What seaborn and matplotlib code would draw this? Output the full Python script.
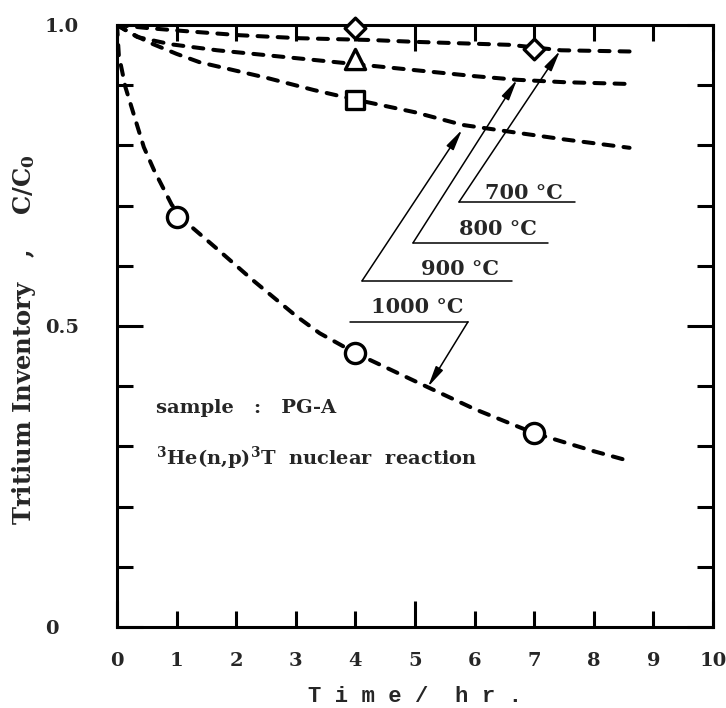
import numpy as np
import pandas as pd
import matplotlib
matplotlib.use("Agg")
import matplotlib.pyplot as plt
import seaborn as sns

# ---------------- data ----------------
# fitted (dashed) curves
t_1000 = [0, 0.03, 0.14, 0.31, 0.45, 0.62, 0.92, 1.21, 1.68, 2.28, 3.0, 3.4, 4.0, 5.2, 6.0, 7.0, 8.0, 8.55]
c_1000 = [1.0, 0.95, 0.897, 0.842, 0.797, 0.759, 0.701, 0.668, 0.628, 0.576, 0.517, 0.488, 0.455, 0.399, 0.362, 0.322, 0.292, 0.277]

t_900 = [0, 0.2, 0.56, 1.0, 1.39, 2.52, 3.3, 4.0, 5.0, 5.8, 6.64, 7.5, 8.6]
c_900 = [1.0, 0.988, 0.970, 0.952, 0.938, 0.912, 0.892, 0.876, 0.855, 0.834, 0.822, 0.810, 0.796]

t_800 = [0, 0.34, 0.9, 1.68, 3.3, 4.0, 5.0, 6.0, 6.71, 7.5, 8.6]
c_800 = [1.0, 0.980, 0.968, 0.958, 0.942, 0.935, 0.925, 0.915, 0.909, 0.905, 0.902]

t_700 = [0, 0.5, 1.12, 2.06, 3.07, 4.28, 5.0, 6.6, 7.45, 8.6]
c_700 = [1.0, 0.995, 0.990, 0.983, 0.978, 0.975, 0.972, 0.967, 0.958, 0.956]

# measured points
pt_t_1000 = [1, 4, 7]
pt_c_1000 = [0.681, 0.455, 0.322]
pt_t_900 = [4]
pt_c_900 = [0.875]
pt_t_800 = [4]
pt_c_800 = [0.943]
pt_t_700 = [4, 7]
pt_c_700 = [0.995, 0.960]

x_ticks = [0, 1, 2, 3, 4, 5, 6, 7, 8, 9, 10]
y_tick_labels = ["0", "0.5", "1.0"]

temp_labels = ["700 °C", "800 °C", "900 °C", "1000 °C"]
label_x = [6.83, 6.39, 5.755, 5.03]
label_y = [0.711, 0.651, 0.585, 0.522]
uline_x0 = [5.738, 4.966, 4.111, 3.909]
uline_x1 = [7.685, 7.232, 6.628, 5.889]
uline_y = [0.706, 0.638, 0.575, 0.507]
tip_x = [7.433, 6.711, 5.789, 5.218]
tip_y = [0.957, 0.909, 0.826, 0.399]
leader_from = ["left", "left", "left", "right"]

# ---------------- style ----------------
sns.set_style("white")
plt.rcParams["font.family"] = ["DejaVu Serif"]
plt.rcParams["font.weight"] = "bold"
plt.rcParams["mathtext.fontset"] = "dejavuserif"
plt.rcParams["mathtext.default"] = "bf"

fig = plt.figure(figsize=(7.26, 7.08), dpi=100)
ax = fig.add_axes([0.1612, 0.1144, 0.8209, 0.8503])

dash = (0, (2.5, 2.5))
for tt, cc in [(t_1000, c_1000), (t_900, c_900), (t_800, c_800), (t_700, c_700)]:
    df = pd.DataFrame({"t": tt, "c": cc})
    sns.lineplot(data=df, x="t", y="c", ax=ax, color="black", lw=2.9,
                 linestyle=dash, estimator=None, sort=False, zorder=2,
                 dash_capstyle="round")

mk_kw = dict(color="white", edgecolor="black", linewidth=2.4, zorder=5, clip_on=False, legend=False)
sns.scatterplot(x=pt_t_1000, y=pt_c_1000, marker="o", s=14.5**2, ax=ax, **mk_kw)
sns.scatterplot(x=pt_t_900, y=pt_c_900, marker="s", s=13.5**2, ax=ax, **mk_kw)
sns.scatterplot(x=pt_t_800, y=pt_c_800, marker="^", s=14.5**2, ax=ax, **mk_kw)
sns.scatterplot(x=pt_t_700, y=pt_c_700, marker="D", s=10.5**2, ax=ax, **mk_kw)

# annotations
for i, lab in enumerate(temp_labels):
    ax.text(label_x[i], label_y[i], lab, ha="center", va="baseline",
            fontsize=15, fontweight="bold")
    ax.plot([uline_x0[i], uline_x1[i]], [uline_y[i], uline_y[i]], color="black", lw=1.1)
    sx = uline_x0[i] if leader_from[i] == "left" else uline_x1[i]
    ax.annotate("", xy=(tip_x[i], tip_y[i]), xytext=(sx, uline_y[i]),
                arrowprops=dict(arrowstyle="-|>,head_length=0.9,head_width=0.18",
                                color="black", lw=1.1, shrinkA=0, shrinkB=0,
                                mutation_scale=14))

ax.text(0.654, 0.355, "sample   :   PG-A", ha="left", va="baseline", fontsize=14, fontweight="bold")
ax.text(0.654, 0.269, "$^{3}$He(n,p)$^{3}$T  nuclear  reaction", ha="left", va="baseline",
        fontsize=14, fontweight="bold")

# axes
ax.set_xlim(0, 10)
ax.set_ylim(0, 1.0)
ax.set_xticks([0, 5, 10], labels=["0", "5", "10"])
ax.set_xticks([1, 2, 3, 4, 6, 7, 8, 9], labels=["1", "2", "3", "4", "6", "7", "8", "9"], minor=True)
ax.set_yticks([0, 0.5, 1.0], labels=y_tick_labels)
ax.set_yticks([0.1, 0.2, 0.3, 0.4, 0.6, 0.7, 0.8, 0.9], minor=True)

for s in ax.spines.values():
    s.set_visible(True)
    s.set_linewidth(2.2)
    s.set_color("black")

ax.tick_params(axis="both", which="both", direction="in", top=True, right=True,
               bottom=True, left=True, width=2.2, color="black")
ax.tick_params(axis="both", which="major", length=19)
ax.tick_params(axis="both", which="minor", length=11.5)
ax.tick_params(axis="x", which="both", pad=18, labelsize=14)
ax.tick_params(axis="y", which="major", pad=52, labelsize=14)
for lab in ax.get_xticklabels(which="both"):
    lab.set_fontweight("bold")
for lab in ax.get_yticklabels():
    lab.set_fontweight("bold")
    lab.set_horizontalalignment("left")

ax.set_xlabel("")
ax.set_ylabel("")
fig.text(0.5716, 1 - 697 / 708, "T i m e /  h r .", ha="center", va="center",
         fontsize=16, fontweight="bold", family=["Liberation Mono", "DejaVu Sans Mono"])
fig.text(24 / 726, 1 - 340 / 708, "Tritium Inventory   ,    C/C$_{0}$", rotation=90,
         ha="center", va="center", fontsize=17.5, fontweight="bold")

fig.savefig("out.png", dpi=100)
